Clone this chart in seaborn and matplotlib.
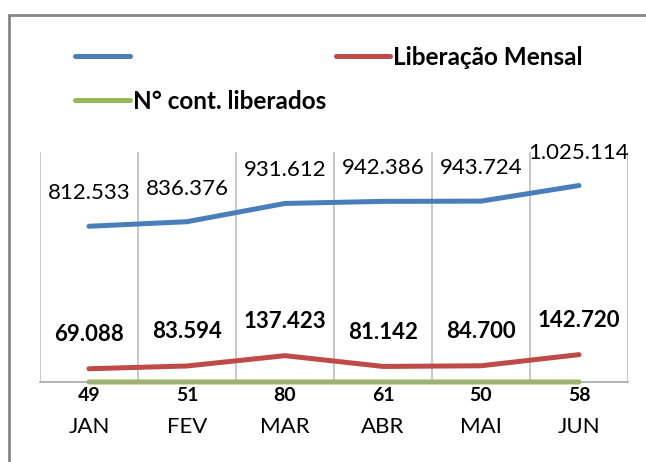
import pandas as pd
import matplotlib.pyplot as plt
import seaborn as sns
from matplotlib.lines import Line2D
from matplotlib.patches import Rectangle

meses = ["JAN", "FEV", "MAR", "ABR", "MAI", "JUN"]
valor_total = [812533, 836376, 931612, 942386, 943724, 1025114]
liberacao_mensal = [69088, 83594, 137423, 81142, 84700, 142720]
contratos = [49, 51, 80, 61, 50, 58]

cor_azul = "#4A7EBB"
cor_vermelho = "#BE4B48"
cor_verde = "#98B954"
cor_cinza = "#A6A6A6"

sns.set_style("white")
plt.rcParams["font.family"] = ["Lato", "DejaVu Sans"]
plt.rcParams["text.color"] = "black"
plt.rcParams["xtick.labelcolor"] = "black"


def fmt_br(v):
    return f"{v:,}".replace(",", ".")


# dados em formato longo para o seaborn
pos = list(range(len(meses)))
df = pd.concat([
    pd.DataFrame({"pos": pos, "valor": valor_total, "serie": "total"}),
    pd.DataFrame({"pos": pos, "valor": liberacao_mensal, "serie": "Liberação Mensal"}),
    pd.DataFrame({"pos": pos, "valor": contratos, "serie": "N° cont. liberados"}),
])
paleta = {"total": cor_azul, "Liberação Mensal": cor_vermelho, "N° cont. liberados": cor_verde}

fig = plt.figure(figsize=(6.46, 4.62), dpi=100)
ax = fig.add_axes([40 / 646, 80 / 462, 588 / 646, 230 / 462])

sns.lineplot(data=df, x="pos", y="valor", hue="serie", palette=paleta,
             linewidth=3.6, legend=False, ax=ax)
for ln in ax.lines:
    ln.set_clip_on(False)
    ln.set_solid_capstyle("round")
    ln.set_solid_joinstyle("round")

ax.set_xlim(-0.5, len(meses) - 0.5)
ax.set_ylim(0, 1200000)
ax.set_xlabel("")
ax.set_ylabel("")
ax.set_yticks([])

# meses no centro, divisões nas bordas das categorias
ax.set_xticks(pos)
ax.set_xticklabels(meses, fontsize=16)
ax.tick_params(axis="x", which="major", length=0, pad=25)
ax.set_xticks([p - 0.5 for p in pos] + [len(meses) - 0.5], minor=True)
ax.tick_params(axis="x", which="minor", length=8, width=1.2, color=cor_cinza)
ax.grid(which="minor", axis="x", color="#BFBFBF", linewidth=1.2)
ax.grid(which="major", visible=False)

for s in ["top", "right", "left"]:
    ax.spines[s].set_visible(False)
ax.spines["bottom"].set_color(cor_cinza)
ax.spines["bottom"].set_linewidth(1.2)

# rótulos de dados
for i, v in enumerate(valor_total):
    ax.annotate(fmt_br(v), (i, v), xytext=(0, 33), textcoords="offset pixels",
                ha="center", va="center", fontsize=16)
for i, v in enumerate(liberacao_mensal):
    ax.annotate(fmt_br(v), (i, v), xytext=(0, 34), textcoords="offset pixels",
                ha="center", va="center", fontsize=16, fontweight="bold")
for i, v in enumerate(contratos):
    ax.annotate(fmt_br(v), (i, v), xytext=(0, -14), textcoords="offset pixels",
                ha="center", va="center", fontsize=14, fontweight="bold")

# legenda
handles = [
    Line2D([], [], color=cor_azul, linewidth=3.6, solid_capstyle="round"),
    Line2D([], [], color=cor_verde, linewidth=3.6, solid_capstyle="round"),
    Line2D([], [], color=cor_vermelho, linewidth=3.6, solid_capstyle="round"),
]
labels = ["", "N° cont. liberados", "Liberação Mensal"]
fig.legend(handles, labels, ncol=2, loc="upper left",
           bbox_to_anchor=(75 / 646, 1 - 46 / 462), frameon=False,
           prop={"size": 17.5, "weight": "bold"}, handlelength=2.25,
           handletextpad=0.12, columnspacing=0.4, labelspacing=0.85,
           borderaxespad=0, borderpad=0)

# moldura externa do gráfico
fig.patches.append(Rectangle((9 / 646, -0.1), 1.2, (462 - 15) / 462 + 0.1,
                             transform=fig.transFigure, fill=False,
                             edgecolor="#868686", linewidth=2))

fig.savefig("out.png", dpi=100)
